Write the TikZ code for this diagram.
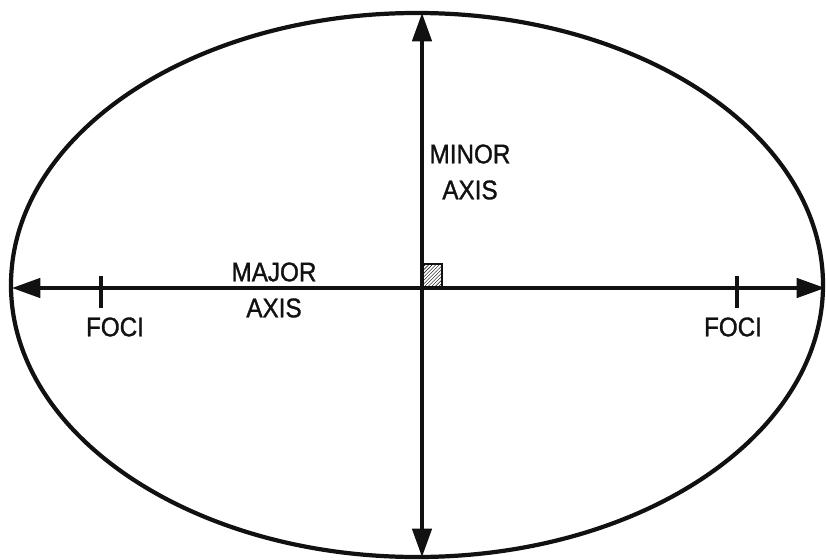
\documentclass[tikz,border=0pt]{standalone}
\usepackage{fontspec}
\setmainfont{Liberation Sans}
\newfontfamily\lblfont[FakeBold=1.2,FakeStretch=0.9]{Liberation Sans}
\usetikzlibrary{arrows.meta,patterns,positioning}
\definecolor{ink}{HTML}{111111}

\begin{document}
\begin{tikzpicture}[x=0.03cm,y=-0.03cm,line width=3pt,draw=ink,
    >={Triangle[length=8.5mm,width=5.8mm]},
    lbl/.style={font=\lblfont\fontsize{23}{30.7}\selectfont,align=center,inner sep=0pt,text=ink}]
  \useasboundingbox (0,0) rectangle (826,560);
  % outline
  \draw[line width=3.6pt] (417,285) ellipse [x radius=12.18cm,y radius=8.16cm];
  % axis ends
  \coordinate (majL) at (12,288);
  \coordinate (majR) at (825,288);
  \coordinate (minT) at (422,13);
  \coordinate (minB) at (422,557);
  \coordinate (ctr) at (422,288);
  \draw[<->] (majL) -- (majR);
  \draw[<->] (minT) -- (minB);
  % right angle mark
  \draw[line width=2pt,pattern=north east lines] (ctr) rectangle ++(20,-24);
  % foci
  \coordinate (fL) at (101,288);
  \coordinate (fR) at (737,288);
  \draw[line width=3.2pt] ([yshift=12*0.03cm]fL) -- ([yshift=-20*0.03cm]fL);
  \draw[line width=3.2pt] ([yshift=12*0.03cm]fR) -- ([yshift=-20*0.03cm]fR);
  \node[lbl] (focusL) at (115,327) {FOCI};
  \node[lbl] (focusR) at (733,327) {FOCI};
  \node[lbl] (majorlbl) at (274,290) {MAJOR\\AXIS};
  \node[lbl] (minorlbl) at (470,172) {MINOR\\AXIS};
\end{tikzpicture}
\end{document}
